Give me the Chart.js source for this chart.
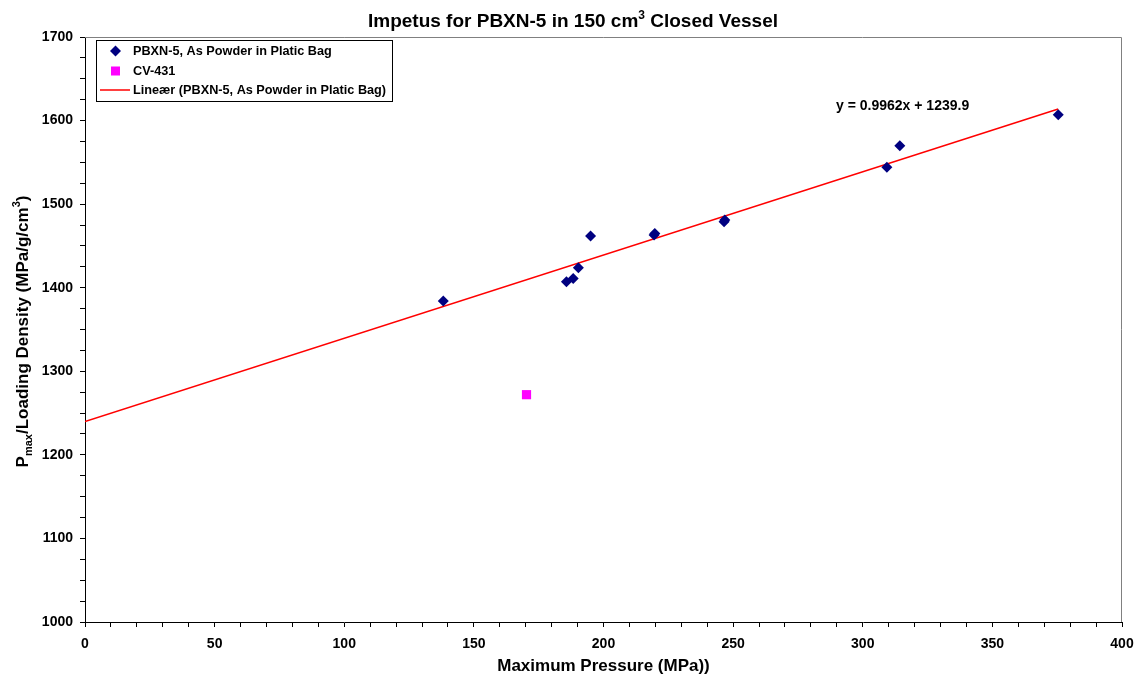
<!DOCTYPE html>
<html>
<head>
<meta charset="utf-8">
<script src="https://cdn.jsdelivr.net/npm/chart.js@4"></script>
<style>
  html, body { margin: 0; padding: 0; background: #fff; }
  #wrap { width: 1134px; height: 679px; }
</style>
</head>
<body>
<div id="wrap"><canvas id="impetusChart" width="1134" height="679"></canvas></div>
<script>
// Data
const pbxnPressure = [138.2, 185.7, 188.3, 190.3, 195.0, 219.5, 219.8, 246.5, 246.8, 309.3, 314.3, 375.4];
const pbxnImpetus = [1384, 1407, 1411, 1424, 1462, 1463, 1465, 1479, 1481, 1544, 1570, 1607];
const cvPressure = [170.3];
const cvImpetus = [1272];

// Linear trend shown on the chart
const trendSlope = 0.9962;
const trendIntercept = 1239.9;
const trendRange = [0, 375.4];

const seriesLabels = [
    'PBXN-5, As Powder in Platic Bag',
    'CV-431',
    'Lineær (PBXN-5, As Powder in Platic Bag)'
];

const FONT = '"Liberation Sans", Arial, sans-serif';

/* Draws text runs with sub/superscripts, centred on (cx, cy) */
const drawRuns = (ctx, runs, cx, cy) => {
    let total = 0;
    runs.forEach(r => {
        ctx.font = 'bold ' + r.size + 'px ' + FONT;
        r.w = ctx.measureText(r.text).width;
        total += r.w;
    });
    let x = cx - total / 2;
    ctx.textAlign = 'left';
    ctx.textBaseline = 'alphabetic';
    runs.forEach(r => {
        ctx.font = 'bold ' + r.size + 'px ' + FONT;
        ctx.fillText(r.text, x, cy + (r.shift || 0));
        x += r.w;
    });
}

const decorations = {
    id: 'decorations',
    beforeDatasetsDraw(chart) {
        const { ctx, chartArea: a } = chart;
        ctx.save();
        ctx.strokeStyle = '#808080';
        ctx.lineWidth = 1;
        ctx.beginPath();
        ctx.moveTo(a.left, a.top + 0.5);
        ctx.lineTo(a.right - 0.5, a.top + 0.5);
        ctx.lineTo(a.right - 0.5, a.bottom);
        ctx.stroke();
        ctx.restore();
    },
    afterDraw(chart) {
        const { ctx, chartArea: a, scales } = chart;
        ctx.save();
        ctx.fillStyle = '#000';

        // Title
        drawRuns(ctx, [
            { text: 'Impetus for PBXN-5 in 150 cm', size: 19 },
            { text: '3', size: 12, shift: -8 },
            { text: ' Closed Vessel', size: 19 }
        ], 573, 27);

        // X axis title
        drawRuns(ctx, [{ text: 'Maximum Pressure (MPa))', size: 17 }], (a.left + a.right) / 2, 671);

        // Y axis title (rotated)
        ctx.save();
        ctx.translate(28, (a.top + a.bottom) / 2 + 2);
        ctx.rotate(-Math.PI / 2);
        drawRuns(ctx, [
            { text: 'P', size: 17 },
            { text: 'max', size: 11, shift: 4 },
            { text: '/Loading Density (MPa/g/cm', size: 17 },
            { text: '3', size: 11, shift: -8 },
            { text: ')', size: 17 }
        ], 0, 0);
        ctx.restore();

        // Trend equation
        const ex = scales.x.getPixelForValue(289.7);
        const ey = scales.y.getPixelForValue(1617.5);
        ctx.font = 'bold 14px ' + FONT;
        ctx.textAlign = 'left';
        ctx.textBaseline = 'middle';
        ctx.fillText('y = 0.9962x + 1239.9', ex, ey);

        // Legend box
        const lx = 96, ly = 40, lw = 296, lh = 61;
        ctx.fillStyle = '#fff';
        ctx.fillRect(lx, ly, lw, lh);
        ctx.strokeStyle = '#000';
        ctx.lineWidth = 1;
        ctx.strokeRect(lx + 0.5, ly + 0.5, lw, lh);

        const rows = [51, 71, 90];
        ctx.font = 'bold 12.7px ' + FONT;
        ctx.fillStyle = '#000';
        rows.forEach((ry, i) => {
            ctx.fillText(seriesLabels[i], 133, ry);
        });
        // diamond
        ctx.fillStyle = '#000080';
        ctx.beginPath();
        ctx.moveTo(115.5, rows[0] - 5.5);
        ctx.lineTo(121, rows[0]);
        ctx.lineTo(115.5, rows[0] + 5.5);
        ctx.lineTo(110, rows[0]);
        ctx.closePath();
        ctx.fill();
        // square
        ctx.fillStyle = '#FF00FF';
        ctx.fillRect(111, rows[1] - 4.5, 9, 9);
        // line
        ctx.strokeStyle = '#FF0000';
        ctx.lineWidth = 1.5;
        ctx.beginPath();
        ctx.moveTo(100, rows[2]);
        ctx.lineTo(130, rows[2]);
        ctx.stroke();

        ctx.restore();
    }
};

const buildChart = () => {
    const pbxnPoints = pbxnPressure.map((p, i) => ({ x: p, y: pbxnImpetus[i] }));
    const cvPoints = cvPressure.map((p, i) => ({ x: p, y: cvImpetus[i] }));
    const trendPoints = trendRange.map(p => ({ x: p, y: trendSlope * p + trendIntercept }));

    const data = {
        datasets: [
            {
                label: seriesLabels[2],
                type: 'line',
                data: trendPoints,
                borderColor: '#FF0000',
                borderWidth: 1.5,
                pointRadius: 0,
                fill: false,
                order: 3
            },
            {
                label: seriesLabels[0],
                data: pbxnPoints,
                pointStyle: 'rectRot',
                pointRadius: 5.5,
                backgroundColor: '#000080',
                borderColor: '#000080',
                borderWidth: 0,
                order: 1
            },
            {
                label: seriesLabels[1],
                data: cvPoints,
                pointStyle: 'rect',
                pointRadius: 6.5,
                backgroundColor: '#FF00FF',
                borderColor: '#FF00FF',
                borderWidth: 0,
                order: 2
            }
        ]
    };

    const tickFont = { family: FONT, size: 14, weight: 'bold' };

    const config = {
        type: 'scatter',
        data: data,
        options: {
            responsive: false,
            animation: false,
            layout: { padding: { top: 37, right: 12, left: 0, bottom: 0 } },
            plugins: {
                legend: { display: false },
                tooltip: { enabled: false }
            },
            scales: {
                x: {
                    type: 'linear',
                    min: 0,
                    max: 400,
                    afterFit: s => {
                        s.height = 57;
                        s.paddingLeft = 0;
                        s.paddingRight = 0;
                    },
                    border: { color: '#000', width: 1 },
                    grid: { drawOnChartArea: false, color: '#000', tickLength: 5 },
                    ticks: {
                        stepSize: 10,
                        autoSkip: false,
                        maxRotation: 0,
                        color: '#000',
                        font: tickFont,
                        padding: 9,
                        callback: v => (v % 50 === 0 ? String(v) : '')
                    }
                },
                y: {
                    min: 1000,
                    max: 1700,
                    afterFit: s => {
                        s.width = 85;
                        s.paddingTop = 0;
                        s.paddingBottom = 0;
                    },
                    border: { color: '#000', width: 1 },
                    grid: { drawOnChartArea: false, color: '#000', tickLength: 5 },
                    ticks: {
                        stepSize: 25,
                        autoSkip: false,
                        color: '#000',
                        font: tickFont,
                        padding: 7,
                        callback: v => (v % 100 === 0 ? String(v) : '')
                    }
                }
            }
        },
        plugins: [decorations]
    };

    const ctx = document.getElementById('impetusChart').getContext('2d');
    new Chart(ctx, config);
}

document.addEventListener('DOMContentLoaded', () => {
    buildChart();
});
</script>
</body>
</html>
